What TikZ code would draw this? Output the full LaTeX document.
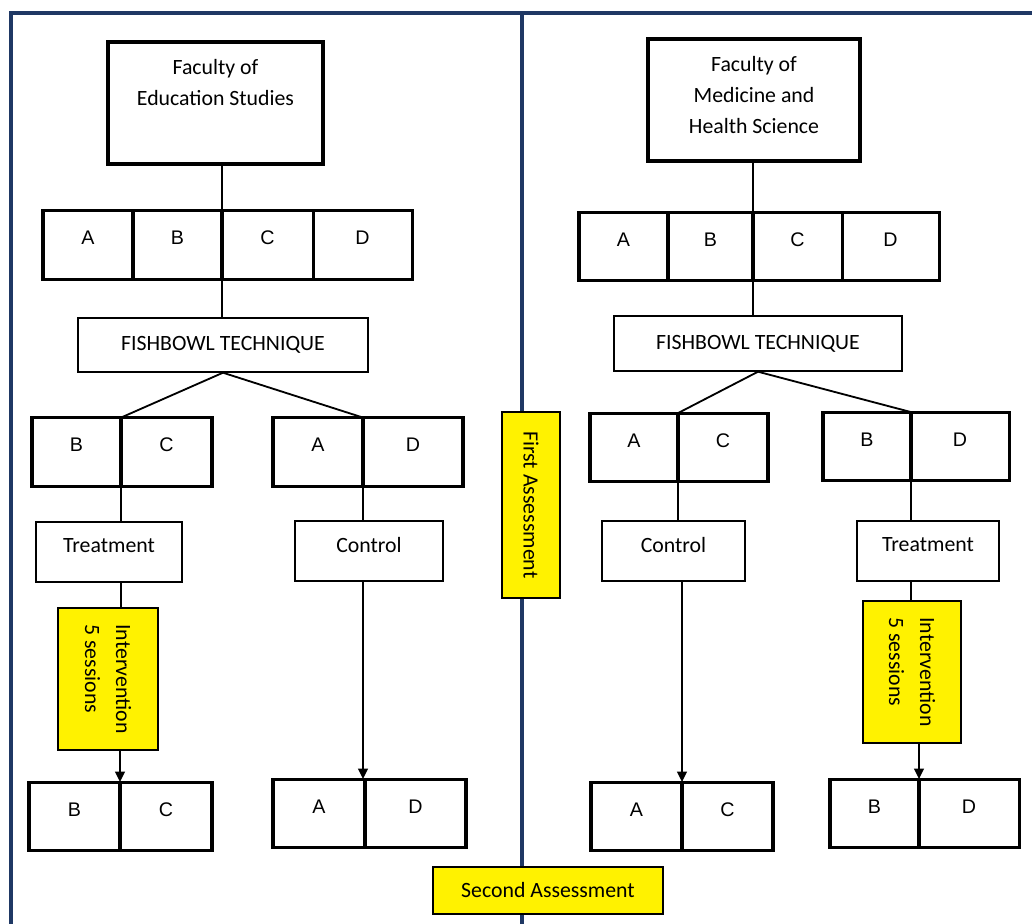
\documentclass[tikz,border=0pt]{standalone}
\usepackage{fontspec}
\setmainfont{Carlito}
\newfontfamily\cellfont{Liberation Sans}
\usetikzlibrary{arrows.meta,positioning}
\definecolor{framec}{HTML}{1F3864}

\begin{document}
\begin{tikzpicture}[x=0.025cm,y=-0.025cm,
  font=\fontsize{15.5}{22}\selectfont,
  fac/.style={draw,line width=2.4pt,align=center,inner sep=0pt},
  cell/.style={draw,line width=2.2pt,outer sep=0pt,inner ysep=0pt,
    text height=0.86cm,text depth=0.86cm,font=\cellfont\fontsize{14}{16}\selectfont},
  group/.style={draw,line width=1pt,inner sep=0pt,text depth=0.3cm,
    minimum height=1.5cm},
  assess/.style={draw,fill=yellow,line width=1pt,inner sep=0pt,align=left},
  link/.style={line width=1.3pt},
  tip/.style={-{Triangle[length=2.6mm,width=2.4mm]}}]
  \useasboundingbox (0,0) rectangle (1032,924);

  % frame
  \draw[framec,line width=2.6pt] (11,924) -- (11,13) -- (1032,13);
  \draw[framec,line width=2.6pt] (522,13) -- (522,924);

  % education studies
  \node[fac,minimum width=5.375cm,minimum height=3.05cm] (facL) at (215.5,103)
    {Faculty of\\Education Studies\\\strut};
  \node[cell,minimum width=2.25cm] (lA1) at (88,245) {A};
  \node[cell,minimum width=2.225cm,right=0pt of lA1] (lB1) {B};
  \node[cell,minimum width=2.275cm,right=0pt of lB1] (lC1) {C};
  \node[cell,minimum width=2.475cm,right=0pt of lC1] (lD1) {D};
  \node[draw,line width=1pt,minimum width=7.25cm,minimum height=1.35cm] (fishL) at (223,345)
    {FISHBOWL TECHNIQUE};
  \node[cell,minimum width=2.225cm] (lB2) at (76.5,452) {B};
  \node[cell,minimum width=2.275cm,right=0pt of lB2] (lC2) {C};
  \node[cell,minimum width=2.25cm] (lA2) at (318,452) {A};
  \node[cell,minimum width=2.5cm,right=0pt of lA2] (lD2) {D};
  \node[group,minimum width=3.65cm] (treatL) at (109,552) {Treatment};
  \node[group,minimum width=3.7cm] (contL) at (369,551) {Control};
  \node[assess,rotate=-90,minimum width=3.55cm,minimum height=2.5cm] (intL) at (108,679)
    {Intervention\\5 sessions};
  \node[cell,minimum width=2.275cm] (lB3) at (74.5,816.5) {B};
  \node[cell,minimum width=2.3cm,right=0pt of lB3] (lC3) {C};
  \node[cell,minimum width=2.3cm] (lA3) at (319,813.5) {A};
  \node[cell,minimum width=2.525cm,right=0pt of lA3] (lD3) {D};

  % medicine and health science
  \node[fac,text depth=0.25cm,minimum width=5.3cm,minimum height=3.05cm] (facR) at (754,100)
    {Faculty of\\Medicine and\\Health Science};
  \node[cell,minimum width=2.225cm] (rA1) at (623.5,246.5) {A};
  \node[cell,minimum width=2.125cm,right=0pt of rA1] (rB1) {B};
  \node[cell,minimum width=2.225cm,right=0pt of rB1] (rC1) {C};
  \node[cell,minimum width=2.425cm,right=0pt of rC1] (rD1) {D};
  \node[draw,line width=1pt,minimum width=7.2cm,minimum height=1.375cm] (fishR) at (758,343.5)
    {FISHBOWL TECHNIQUE};
  \node[cell,minimum width=2.2cm] (rA2) at (634,447.5) {A};
  \node[cell,minimum width=2.25cm,right=0pt of rA2] (rC2) {C};
  \node[cell,minimum width=2.2cm] (rB2) at (867,446.5) {B};
  \node[cell,minimum width=2.45cm,right=0pt of rB2] (rD2) {D};
  \node[group,minimum width=3.575cm] (contR) at (673.5,551) {Control};
  \node[group,minimum width=3.55cm] (treatR) at (928,551) {Treatment};
  \node[assess,rotate=-90,minimum width=3.55cm,minimum height=2.45cm] (intR) at (912,672)
    {Intervention\\5 sessions};
  \node[cell,minimum width=2.275cm] (rA3) at (636.5,816.5) {A};
  \node[cell,minimum width=2.275cm,right=0pt of rA3] (rC3) {C};
  \node[cell,minimum width=2.225cm] (rB3) at (874.5,813.5) {B};
  \node[cell,minimum width=2.5cm,right=0pt of rB3] (rD3) {D};

  % assessments
  \node[assess,rotate=-90,minimum width=4.65cm,minimum height=1.45cm] (firstA) at (531,505)
    {First Assessment};
  \node[assess,minimum width=5.75cm,minimum height=1.175cm] (secondA) at (548,890.5)
    {Second Assessment};

  % left links
  \draw[link] (facL.south -| lB1.north east) -- (lB1.north east);
  \draw[link] (lB1.south east) -- (lB1.south east |- fishL.north);
  \draw[link] (fishL.south) -- (lB2.north east);
  \draw[link] (fishL.south) -- (lA2.north east);
  \draw[link] (lB2.south east) -- (lB2.south east |- treatL.north);
  \draw[link] (treatL.south -| lB2.south east) -- (intL.west -| lB2.south east);
  \draw[link,tip] (intL.east -| lB3.north east) -- (lB3.north east);
  \draw[link] (lA2.south east) -- (lA2.south east |- contL.north);
  \draw[link,tip] (contL.south -| lA2.south east) -- (lA2.south east |- lA3.north);

  % right links
  \draw[link] (facR.south -| rB1.north east) -- (rB1.north east);
  \draw[link] (rB1.south east) -- (rB1.south east |- fishR.north);
  \draw[link] (fishR.south) -- (rA2.north east);
  \draw[link] (fishR.south) -- (rB2.north east);
  \draw[link] (rA2.south east) -- (rA2.south east |- contR.north);
  \draw[link,tip] (contR.south -| rA3.north east) -- (rA3.north east);
  \draw[link] (rB2.south east) -- (rB2.south east |- treatR.north);
  \draw[link] (treatR.south -| rB2.south east) -- (intR.west -| rB2.south east);
  \draw[link,tip] (intR.east -| rB3.north east) -- (rB3.north east);
\end{tikzpicture}
\end{document}
